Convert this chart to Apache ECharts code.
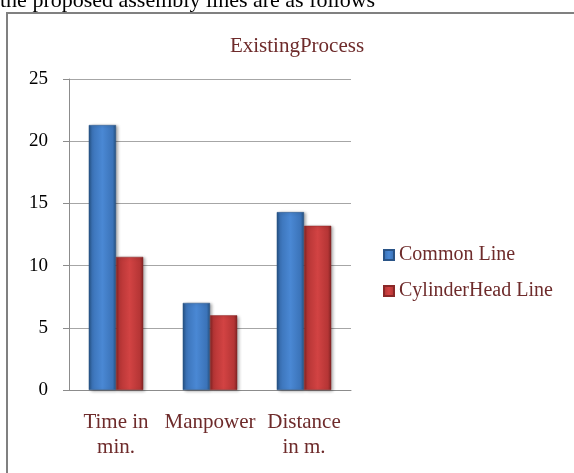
<!DOCTYPE html>
<html>
<head>
<meta charset="utf-8">
<script src="https://cdn.jsdelivr.net/npm/echarts@6/dist/echarts.min.js"></script>
<style>
  html, body { margin: 0; padding: 0; background: #ffffff; }
  #chart { width: 574px; height: 473px; }
</style>
</head>
<body>
<div id="chart"></div>
<script>
// Categories and values for the existing assembly process
const categories = ['Time in\nmin.', 'Manpower', 'Distance\nin m.'];
const commonLine = [21.3, 7.0, 14.3];
const cylinderHeadLine = [10.7, 6.0, 13.2];
const seriesNames = ['Common Line', 'CylinderHead Line'];
const yTicks = { min: 0, max: 25, interval: 5 };

const serif = '"Liberation Serif", "DejaVu Serif", serif';
const maroon = '#6e2b2b';

// Horizontal shading gives the bars a rounded, bevelled look
function barFill(edge, mid, light) {
  return new echarts.graphic.LinearGradient(0, 0, 1, 0, [
    { offset: 0, color: edge },
    { offset: 0.12, color: mid },
    { offset: 0.5, color: light },
    { offset: 0.88, color: mid },
    { offset: 1, color: edge }
  ]);
}

const chart = echarts.init(document.getElementById('chart'), null, { renderer: 'canvas' });

chart.setOption({
  animation: false,
  backgroundColor: '#ffffff',
  graphic: [
    {
      type: 'text',
      left: 0,
      top: -10,
      style: {
        text: 'the proposed assembly lines are as follows',
        font: '22px ' + serif,
        fill: '#000000'
      },
      z: 10
    },
    {
      type: 'rect',
      shape: { x: 7, y: 13, width: 620, height: 520 },
      style: { fill: 'none', stroke: '#808080', lineWidth: 2 },
      z: -1
    }
  ],
  title: {
    text: 'ExistingProcess',
    left: 292,
    top: 31,
    textAlign: 'center',
    textStyle: {
      fontFamily: serif,
      fontSize: 21,
      fontWeight: 'normal',
      color: maroon
    }
  },
  legend: {
    orient: 'vertical',
    left: 378,
    top: 240,
    itemWidth: 10,
    itemHeight: 10,
    itemGap: 16,
    icon: 'rect',
    data: seriesNames,
    textStyle: {
      fontFamily: serif,
      fontSize: 20,
      color: maroon
    }
  },
  grid: {
    left: 69,
    right: 223,
    top: 79,
    bottom: 83,
    containLabel: false
  },
  xAxis: {
    type: 'category',
    data: categories,
    axisLine: { show: true, lineStyle: { color: '#8c8c8c', width: 1 } },
    axisTick: { show: false },
    axisLabel: {
      color: maroon,
      fontFamily: serif,
      fontSize: 21,
      lineHeight: 25,
      margin: 20,
      interval: 0
    }
  },
  yAxis: {
    type: 'value',
    min: yTicks.min,
    max: yTicks.max,
    interval: yTicks.interval,
    axisLine: { show: true, lineStyle: { color: '#8c8c8c', width: 1 } },
    axisTick: { show: true, length: 6, lineStyle: { color: '#8c8c8c' } },
    axisLabel: {
      color: '#000000',
      fontFamily: serif,
      fontSize: 19,
      margin: 21
    },
    splitLine: { show: true, lineStyle: { color: '#a6a6a6', width: 1 } }
  },
  series: [
    {
      name: seriesNames[0],
      type: 'bar',
      data: commonLine,
      barGap: '0%',
      barCategoryGap: '42%',
      itemStyle: {
        color: barFill('#24507f', '#3b73b8', '#4a88d4'),
        borderColor: '#2a5487',
        borderWidth: 0.5,
        shadowColor: 'rgba(0,0,0,0.35)',
        shadowBlur: 3,
        shadowOffsetX: 2,
        shadowOffsetY: 1
      }
    },
    {
      name: seriesNames[1],
      type: 'bar',
      data: cylinderHeadLine,
      barGap: '0%',
      barCategoryGap: '42%',
      itemStyle: {
        color: barFill('#7e2222', '#b53535', '#d24343'),
        borderColor: '#8a2828',
        borderWidth: 0.5,
        shadowColor: 'rgba(0,0,0,0.35)',
        shadowBlur: 3,
        shadowOffsetX: 2,
        shadowOffsetY: 1
      }
    }
  ]
});
</script>
</body>
</html>
